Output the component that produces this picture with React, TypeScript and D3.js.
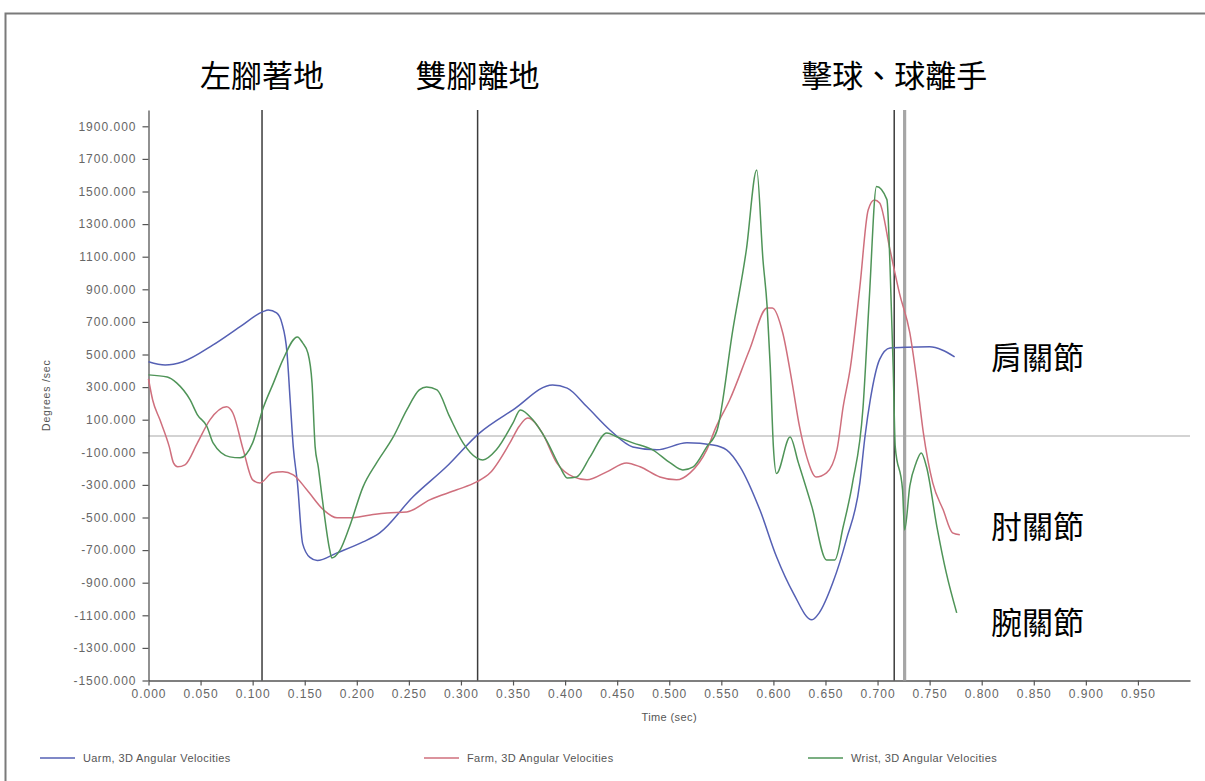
import React, { useEffect, useRef } from 'react';
import * as d3 from 'd3';

// time (sec) and angular velocity (deg/sec)
const uarmTime = [0.000, 0.016, 0.033, 0.062, 0.088, 0.110, 0.115, 0.123, 0.128, 0.133, 0.136, 0.139, 0.143, 0.148, 0.155, 0.162, 0.181, 0.206, 0.222, 0.254, 0.286, 0.318, 0.350, 0.388, 0.402, 0.421, 0.443, 0.465, 0.488, 0.517, 0.542, 0.555, 0.568, 0.587, 0.603, 0.619, 0.637, 0.644, 0.657, 0.670, 0.683, 0.688, 0.693, 0.702, 0.712, 0.728, 0.750, 0.762, 0.774];
const uarmValues = [456, 436, 456, 559, 671, 763, 773, 755, 694, 510, 221, -67, -288, -660, -745, -764, -717, -650, -594, -373, -189, 19, 160, 313, 294, 179, 37, -67, -85, -42, -55, -85, -189, -453, -741, -962, -1128, -1085, -901, -637, -288, 0, 221, 470, 540, 545, 547, 528, 485];

const farmTime = [0.000, 0.004, 0.011, 0.020, 0.024, 0.028, 0.035, 0.047, 0.059, 0.075, 0.081, 0.091, 0.100, 0.107, 0.119, 0.129, 0.139, 0.152, 0.168, 0.181, 0.193, 0.213, 0.229, 0.248, 0.270, 0.296, 0.315, 0.328, 0.347, 0.356, 0.364, 0.378, 0.392, 0.408, 0.421, 0.440, 0.459, 0.472, 0.491, 0.507, 0.520, 0.536, 0.545, 0.558, 0.577, 0.594, 0.599, 0.609, 0.618, 0.625, 0.632, 0.641, 0.651, 0.661, 0.667, 0.674, 0.683, 0.691, 0.697, 0.702, 0.712, 0.721, 0.731, 0.738, 0.744, 0.753, 0.763, 0.772, 0.779];
const farmValues = [350, 221, 99, -67, -165, -189, -177, -42, 99, 179, 141, -85, -269, -288, -226, -220, -238, -330, -453, -502, -502, -484, -472, -466, -392, -330, -282, -226, -42, 60, 111, 19, -165, -251, -269, -220, -165, -189, -251, -269, -226, -85, 56, 221, 528, 786, 786, 632, 326, 60, -128, -251, -226, -85, 180, 424, 914, 1387, 1448, 1430, 1141, 877, 632, 326, 19, -288, -453, -594, -606];

const wristTime = [0.000, 0.018, 0.027, 0.040, 0.047, 0.056, 0.062, 0.078, 0.088, 0.100, 0.110, 0.120, 0.129, 0.143, 0.148, 0.153, 0.157, 0.160, 0.163, 0.167, 0.174, 0.176, 0.184, 0.193, 0.206, 0.219, 0.235, 0.248, 0.260, 0.267, 0.277, 0.289, 0.302, 0.315, 0.321, 0.334, 0.350, 0.357, 0.369, 0.382, 0.395, 0.402, 0.411, 0.424, 0.440, 0.450, 0.465, 0.484, 0.501, 0.513, 0.523, 0.536, 0.546, 0.561, 0.574, 0.584, 0.590, 0.594, 0.597, 0.600, 0.603, 0.616, 0.624, 0.637, 0.651, 0.659, 0.667, 0.676, 0.686, 0.692, 0.699, 0.709, 0.712, 0.715, 0.717, 0.724, 0.726, 0.731, 0.737, 0.742, 0.747, 0.757, 0.766, 0.776];
const wristValues = [375, 362, 326, 221, 130, 60, -42, -128, -134, -42, 170, 326, 467, 608, 571, 510, 326, -67, -189, -392, -699, -748, -699, -557, -312, -165, -6, 160, 283, 301, 283, 120, -42, -134, -147, -85, 80, 160, 99, -25, -189, -257, -251, -128, 19, -6, -42, -85, -165, -208, -189, -67, 37, 650, 1141, 1632, 1080, 792, 424, -67, -230, -6, -165, -435, -760, -760, -557, -288, 170, 835, 1530, 1450, 1037, 424, -67, -330, -576, -306, -165, -104, -189, -557, -840, -1085];

const seriesNames = ['Uarm, 3D Angular Velocities', 'Farm, 3D Angular Velocities', 'Wrist, 3D Angular Velocities'];
const seriesColors = ['#5560b4', '#cf6f7d', '#4f9458'];

const yTicks = [-1500, -1300, -1100, -900, -700, -500, -300, -100, 100, 300, 500, 700, 900, 1100, 1300, 1500, 1700, 1900];
const xTicks = [0, 0.05, 0.1, 0.15, 0.2, 0.25, 0.3, 0.35, 0.4, 0.45, 0.5, 0.55, 0.6, 0.65, 0.7, 0.75, 0.8, 0.85, 0.9, 0.95];

// event markers: left foot down, both feet off, ball hit / release
const eventTimes = [0.109, 0.316, 0.716, 0.726];
const eventLabels = ['左腳著地', '雙腳離地', '擊球、球離手'];
const eventLabelAt = [0.109, 0.316, 0.716];
const jointLabels = ['肩關節', '肘關節', '腕關節'];
const jointLabelValues = [494, -540, -1129];

const W = 1205;
const H = 781;
const margin = { top: 110, right: 15, bottom: 100, left: 148.5 };

const fmt = (d: number) => d.toFixed(3);

const App = () => {
  const ref = useRef<SVGSVGElement>(null);

  useEffect(() => {
    const svg = d3.select(ref.current);
    svg.selectAll('*').remove();

    const x = d3.scaleLinear().domain([0, 1]).range([margin.left, 1190]);
    const y = d3.scaleLinear().domain([-1500, 2000]).range([680.5, margin.top]);

    svg.append('rect').attr('width', W).attr('height', H).attr('fill', '#fff');

    // outer frame (top and left edge only)
    svg.append('path')
      .attr('d', `M5.5,${H} V13.5 H${W}`)
      .attr('fill', 'none')
      .attr('stroke', '#7a7a7a')
      .attr('stroke-width', 2);

    // zero line
    svg.append('line')
      .attr('x1', x(0)).attr('x2', x(1))
      .attr('y1', y(0)).attr('y2', y(0))
      .attr('stroke', '#a8a8a8')
      .attr('stroke-width', 1.2);

    // Y axis
    const yAxis = svg.append('g')
      .attr('transform', `translate(${x(0)},0)`)
      .call(d3.axisLeft(y).tickValues(yTicks).tickFormat(fmt).tickSize(6).tickSizeOuter(0).tickPadding(6));

    // X axis
    const xAxis = svg.append('g')
      .attr('transform', `translate(0,${y(-1500)})`)
      .call(d3.axisBottom(x).tickValues(xTicks).tickFormat(fmt).tickSize(5).tickSizeOuter(0).tickPadding(4));

    [yAxis, xAxis].forEach(g => {
      g.select('.domain').attr('stroke', '#555').attr('stroke-width', 1.3);
      g.selectAll('.tick line').attr('stroke', '#555').attr('stroke-width', 1.2);
      g.selectAll('.tick text')
        .attr('fill', '#666')
        .style('font-family', '"Liberation Sans", Arial, sans-serif')
        .style('font-size', '12px')
        .style('letter-spacing', '1px');
    });

    svg.append('text')
      .attr('transform', `translate(50,${(y(2000) + y(-1500)) / 2}) rotate(-90)`)
      .attr('text-anchor', 'middle')
      .attr('fill', '#555')
      .style('font-family', '"Liberation Sans", Arial, sans-serif')
      .style('font-size', '10.5px')
      .style('letter-spacing', '0.8px')
      .text('Degrees /sec');

    svg.append('text')
      .attr('x', (x(0) + x(1)) / 2)
      .attr('y', 721)
      .attr('text-anchor', 'middle')
      .attr('fill', '#555')
      .style('font-family', '"Liberation Sans", Arial, sans-serif')
      .style('font-size', '11px')
      .style('letter-spacing', '0.4px')
      .text('Time (sec)');

    // event lines
    eventTimes.forEach((t, i) => {
      const last = i === eventTimes.length - 1;
      svg.append('line')
        .attr('x1', x(t)).attr('x2', x(t))
        .attr('y1', y(2000)).attr('y2', y(-1500))
        .attr('stroke', last ? '#a6a6a6' : '#3c3c3c')
        .attr('stroke-width', last ? 3.2 : 1.5);
    });

    // series
    const series = [
      uarmTime.map((t, i) => [t, uarmValues[i]]),
      farmTime.map((t, i) => [t, farmValues[i]]),
      wristTime.map((t, i) => [t, wristValues[i]]),
    ];
    const line = d3.line<number[]>()
      .x(d => x(d[0]))
      .y(d => y(d[1]))
      .curve(d3.curveMonotoneX);

    series.forEach((data, i) => {
      svg.append('path')
        .datum(data)
        .attr('d', line)
        .attr('fill', 'none')
        .attr('stroke', seriesColors[i])
        .attr('stroke-width', 1.5)
        .attr('stroke-linejoin', 'round');
    });

    // event annotations
    eventLabels.forEach((label, i) => {
      svg.append('text')
        .attr('x', x(eventLabelAt[i]))
        .attr('y', 87)
        .attr('text-anchor', 'middle')
        .attr('fill', '#000')
        .style('font-family', '"Noto Sans CJK TC", "Noto Sans CJK SC", sans-serif')
        .style('font-size', '31px')
        .text(label);
    });

    // joint labels on the right
    jointLabels.forEach((label, i) => {
      svg.append('text')
        .attr('x', 991)
        .attr('y', y(jointLabelValues[i]))
        .attr('dominant-baseline', 'central')
        .attr('fill', '#000')
        .style('font-family', '"Noto Sans CJK TC", "Noto Sans CJK SC", sans-serif')
        .style('font-size', '31px')
        .text(label);
    });

    // legend
    const legendX = [40, 424, 808];
    seriesNames.forEach((name, i) => {
      const g = svg.append('g').attr('transform', `translate(${legendX[i]},758)`);
      g.append('line')
        .attr('x1', 0).attr('x2', 35)
        .attr('stroke', seriesColors[i])
        .attr('stroke-width', 1.3);
      g.append('text')
        .attr('x', 43)
        .attr('dy', '0.35em')
        .attr('fill', '#555')
        .style('font-family', '"Liberation Sans", Arial, sans-serif')
        .style('font-size', '11px')
        .style('letter-spacing', '0.4px')
        .text(name);
    });
  }, []);

  return (
    <svg ref={ref} width={W} height={H} style={{ position: 'absolute', left: 0, top: 0 }} />
  );
};

export default App;
